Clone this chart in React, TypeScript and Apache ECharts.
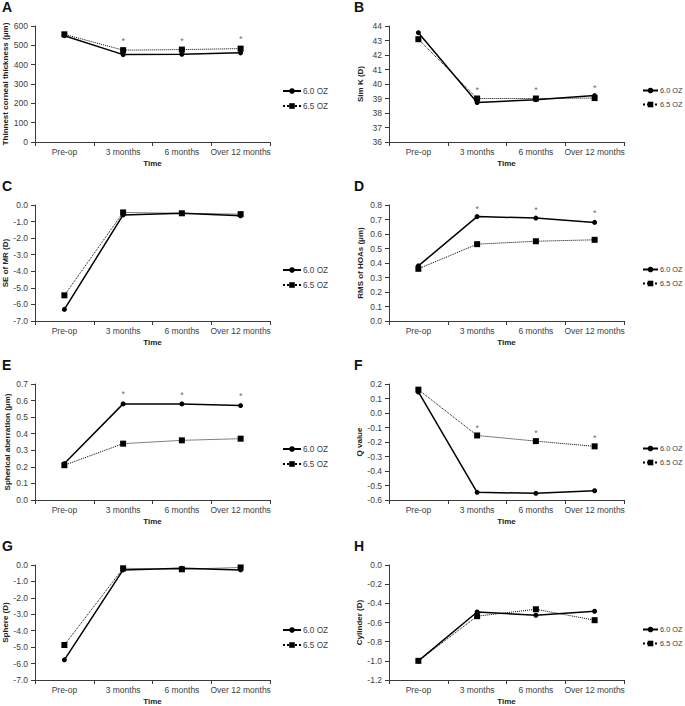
import React, { useEffect, useRef } from "react";
import * as echarts from "echarts";

const categories = ["Pre-op", "3 months", "6 months", "Over 12 months"];
const panelLetters = ["A", "B", "C", "D", "E", "F", "G", "H"];
const yNames = [
  "Thinnest corneal thickness (μm)",
  "Sim K (D)",
  "SE of MR (D)",
  "RMS of HOAs (μm)",
  "Spherical aberration (μm)",
  "Q value",
  "Sphere (D)",
  "Cylinder (D)",
];
const yMin = [0, 36, -7, 0, 0, -0.6, -7, -1.2];
const yMax = [600, 44, 0, 0.8, 0.7, 0.2, 0, 0];
const yStep = [100, 1, 1, 0.1, 0.1, 0.1, 1, 0.2];
const yDecimals = [0, 0, 1, 1, 1, 1, 1, 1];

// 6.0 OZ series per panel
const oz60A = [550, 452, 454, 461];
const oz60B = [43.54, 38.72, 38.92, 39.2];
const oz60C = [-6.3, -0.6, -0.5, -0.65];
const oz60D = [0.38, 0.72, 0.71, 0.68];
const oz60E = [0.22, 0.58, 0.58, 0.57];
const oz60F = [0.145, -0.547, -0.554, -0.536];
const oz60G = [-5.77, -0.3, -0.2, -0.3];
const oz60H = [-1.0, -0.49, -0.524, -0.483];

// 6.5 OZ series per panel
const oz65A = [557, 475, 478, 483];
const oz65B = [43.09, 39.0, 39.0, 39.03];
const oz65C = [-5.45, -0.45, -0.5, -0.55];
const oz65D = [0.36, 0.53, 0.55, 0.56];
const oz65E = [0.21, 0.34, 0.36, 0.37];
const oz65F = [0.161, -0.155, -0.194, -0.23];
const oz65G = [-4.87, -0.2, -0.26, -0.15];
const oz65H = [-1.0, -0.534, -0.462, -0.576];

// significance markers (*) heights, null where absent
const sigA = [null, 524, 524, 532];
const sigB = [null, 39.6, 39.6, 39.75];
const sigC = [null, null, null, null];
const sigD = [null, 0.775, 0.765, 0.745];
const sigE = [null, 0.64, 0.635, 0.625];
const sigF = [null, -0.1, -0.14, -0.175];
const sigG = [null, null, null, null];
const sigH = [null, null, null, null];

const oz60 = [oz60A, oz60B, oz60C, oz60D, oz60E, oz60F, oz60G, oz60H];
const oz65 = [oz65A, oz65B, oz65C, oz65D, oz65E, oz65F, oz65G, oz65H];
const sig = [sigA, sigB, sigC, sigD, sigE, sigF, sigG, sigH];

const SERIES1 = "6.0 OZ";
const SERIES2 = "6.5 OZ";

export default function App() {
  const ref = useRef<HTMLDivElement>(null);

  useEffect(() => {
    if (!ref.current) return;
    const chart = echarts.init(ref.current, null, { renderer: "svg" });

    const rowTops = [26, 205, 384, 565];
    const colLefts = [35, 389];
    const plotW = 235;
    const plotH = 116;
    const font = "Liberation Sans, Arial, sans-serif";
    const textColor = "#404040";
    const axisColor = "#3a3a3a";

    const grids: any[] = [];
    const xAxes: any[] = [];
    const yAxes: any[] = [];
    const series: any[] = [];
    const titles: any[] = [];
    const legends: any[] = [];

    for (let i = 0; i < 8; i++) {
      const row = Math.floor(i / 2);
      const col = i % 2;
      const left = colLefts[col];
      const top = rowTops[row];
      grids.push({ left, top, width: plotW, height: plotH, containLabel: false });
      xAxes.push({
        type: "category",
        gridIndex: i,
        data: categories,
        boundaryGap: true,
        name: "Time",
        nameLocation: "middle",
        nameGap: 17,
        nameTextStyle: { fontFamily: font, fontSize: 8, fontWeight: "bold", color: "#222" },
        axisLine: { onZero: false, lineStyle: { color: axisColor, width: 1 } },
        axisTick: { show: true, length: 4, inside: false, lineStyle: { color: axisColor } },
        axisLabel: { fontFamily: font, fontSize: 8.5, color: textColor, margin: 5, interval: 0 },
        splitLine: { show: false },
      });
      const dec = yDecimals[i];
      yAxes.push({
        type: "value",
        gridIndex: i,
        min: yMin[i],
        max: yMax[i],
        interval: yStep[i],
        name: yNames[i],
        nameLocation: "middle",
        nameGap: col === 0 ? 24 : 25,
        nameTextStyle: { fontFamily: font, fontSize: 8, fontWeight: "bold", color: "#222" },
        axisLine: { show: true, onZero: false, lineStyle: { color: axisColor, width: 1 } },
        axisTick: { show: true, length: 4, inside: false, lineStyle: { color: axisColor } },
        axisLabel: {
          fontFamily: font,
          fontSize: 8.5,
          color: textColor,
          margin: 7,
          formatter: (v: number) => (Math.abs(v) < 1e-9 ? 0 : v).toFixed(dec),
        },
        splitLine: { show: false },
      });
      series.push({
        name: SERIES1,
        type: "line",
        xAxisIndex: i,
        yAxisIndex: i,
        data: oz60[i],
        symbol: "circle",
        symbolSize: 5,
        lineStyle: { color: "#000", width: 1.5, type: "solid" },
        itemStyle: { color: "#000" },
        z: 3,
      });
      series.push({
        name: SERIES2,
        type: "line",
        xAxisIndex: i,
        yAxisIndex: i,
        data: oz65[i],
        symbol: "rect",
        symbolSize: 6,
        lineStyle: { color: "#000", width: 1, type: "dotted" },
        itemStyle: { color: "#000" },
        z: 2,
      });
      const s = sig[i];
      if (s.some((v) => v !== null)) {
        series.push({
          name: "sig",
          type: "scatter",
          xAxisIndex: i,
          yAxisIndex: i,
          data: s.map((v) => (v === null ? "-" : v)),
          symbolSize: 1,
          itemStyle: { color: "rgba(0,0,0,0)" },
          silent: true,
          label: {
            show: true,
            position: "inside",
            formatter: "*",
            fontFamily: font,
            fontSize: 9,
            color: "#444",
          },
        });
      }
      titles.push({
        text: panelLetters[i],
        left: col === 0 ? 2 : 354,
        top: rowTops[row] - 26,
        textStyle: { fontFamily: font, fontSize: 14, fontWeight: "bold", color: "#111" },
        padding: 0,
      });
      legends.push({
        data: [SERIES1, SERIES2],
        orient: "vertical",
        left: col === 0 ? 282 : 642,
        top: top + 61,
        itemWidth: col === 0 ? 18 : 15,
        itemHeight: 7,
        itemGap: 7,
        padding: 0,
        selectedMode: false,
        textStyle: {
          fontFamily: font,
          fontSize: col === 0 ? 8.2 : 7.4,
          color: textColor,
          padding: [0, 0, 0, -3],
        },
      });
    }

    chart.setOption({
      animation: false,
      backgroundColor: "#fff",
      title: titles,
      legend: legends,
      grid: grids,
      xAxis: xAxes,
      yAxis: yAxes,
      series,
    });

    return () => chart.dispose();
  }, []);

  return (
    <div
      ref={ref}
      style={{ position: "absolute", left: 0, top: 0, width: 685, height: 706, background: "#fff" }}
    />
  );
}
